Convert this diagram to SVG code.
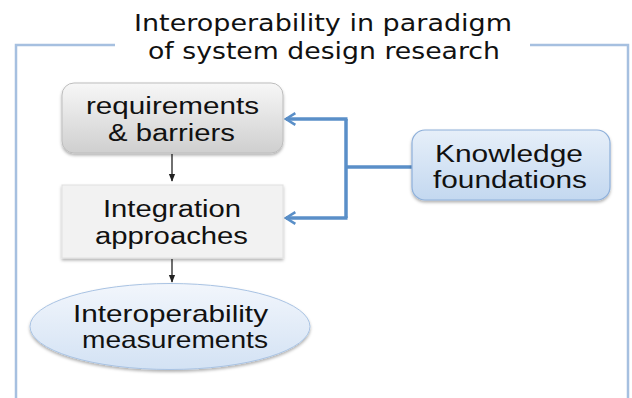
<svg xmlns="http://www.w3.org/2000/svg" width="632" height="398" viewBox="0 0 632 398">
<style>
.t{font-family:"Liberation Sans",Arial,sans-serif;fill:#111;text-anchor:middle}
.title{font-family:"DejaVu Sans",sans-serif;font-size:23.5px;fill:#111;text-anchor:middle}
.frame{fill:none;stroke:#a6c0e0;stroke-width:2.5}
.blue{fill:none;stroke:#5a8fc8;stroke-width:3.5}
.blk{fill:none;stroke:#222;stroke-width:1.3}
</style>
<defs>
<linearGradient id="gGray" x1="0" y1="0" x2="0" y2="1"><stop offset="0" stop-color="#f7f7f7"/><stop offset="1" stop-color="#cfcfcf"/></linearGradient>
<linearGradient id="gBlue" x1="0" y1="0" x2="0" y2="1"><stop offset="0" stop-color="#e6eff9"/><stop offset="1" stop-color="#c3d8f0"/></linearGradient>
<linearGradient id="gEll" x1="0" y1="0" x2="0" y2="1"><stop offset="0" stop-color="#f2f6fc"/><stop offset="1" stop-color="#d3e2f4"/></linearGradient>
<filter id="sh" x="-10%" y="-10%" width="120%" height="130%"><feDropShadow dx="0" dy="2" stdDeviation="1.5" flood-color="#000" flood-opacity="0.3"/></filter>
<marker id="ab" viewBox="0 0 10 10" refX="9" refY="5" markerWidth="8" markerHeight="8" markerUnits="userSpaceOnUse" orient="auto"><path d="M0,1 L10,5 L0,9 Z" fill="#222"/></marker>
<marker id="abl" viewBox="0 0 12 12" refX="10" refY="6" markerWidth="14" markerHeight="14" markerUnits="userSpaceOnUse" orient="auto"><path d="M2,1 L10,6 L2,11" fill="none" stroke="#5a8fc8" stroke-width="2.2"/></marker>
</defs>
<rect width="632" height="398" fill="#fff"/>
<g id="frame">
<path class="frame" d="M16,398 V45 H115"/>
<path class="frame" d="M530,45 H628 V398"/>
</g>
<g id="title">
<text class="title" x="323" y="31" textLength="378" lengthAdjust="spacingAndGlyphs">Interoperability in paradigm</text>
<text class="title" x="324" y="59" textLength="352" lengthAdjust="spacingAndGlyphs">of system design research</text>
</g>
<g id="connectors">
<line class="blk" x1="172" y1="154" x2="172" y2="181" marker-end="url(#ab)"/>
<line class="blk" x1="172" y1="259" x2="172" y2="282" marker-end="url(#ab)"/>
<path class="blue" d="M412,167 H346"/>
<path class="blue" d="M346,218 V119"/>
<path class="blue" d="M347.5,119 H286" marker-end="url(#abl)"/>
<path class="blue" d="M347.5,218 H286" marker-end="url(#abl)"/>
</g>
<g id="requirements">
<rect x="62" y="83" width="221" height="70" rx="12" fill="url(#gGray)" stroke="#bdbdbd" stroke-width="1" filter="url(#sh)"/>
<text class="t" x="172.5" y="114" font-size="23" textLength="173" lengthAdjust="spacingAndGlyphs">requirements</text>
<text class="t" x="171.5" y="141" font-size="23" textLength="127" lengthAdjust="spacingAndGlyphs">&amp; barriers</text>
</g>
<g id="integration">
<rect x="62" y="185" width="221" height="73" fill="#f2f2f2" stroke="#e0e0e0" stroke-width="1" filter="url(#sh)"/>
<text class="t" x="172" y="217" font-size="23" textLength="138" lengthAdjust="spacingAndGlyphs">Integration</text>
<text class="t" x="171.5" y="244" font-size="23" textLength="153" lengthAdjust="spacingAndGlyphs">approaches</text>
</g>
<g id="measurements">
<ellipse cx="170" cy="326.5" rx="140" ry="43" fill="url(#gEll)" stroke="#a9c3e3" stroke-width="1" filter="url(#sh)"/>
<text class="t" x="170.5" y="322" font-size="24" textLength="195" lengthAdjust="spacingAndGlyphs">Interoperability</text>
<text class="t" x="175" y="348" font-size="24" textLength="186" lengthAdjust="spacingAndGlyphs">measurements</text>
</g>
<g id="knowledge">
<rect x="412" y="130" width="198" height="70" rx="13" fill="url(#gBlue)" stroke="#8eb0da" stroke-width="1.2" filter="url(#sh)"/>
<text class="t" x="509" y="162" font-size="23" textLength="148" lengthAdjust="spacingAndGlyphs">Knowledge</text>
<text class="t" x="510" y="188" font-size="23" textLength="154" lengthAdjust="spacingAndGlyphs">foundations</text>
</g>
</svg>
